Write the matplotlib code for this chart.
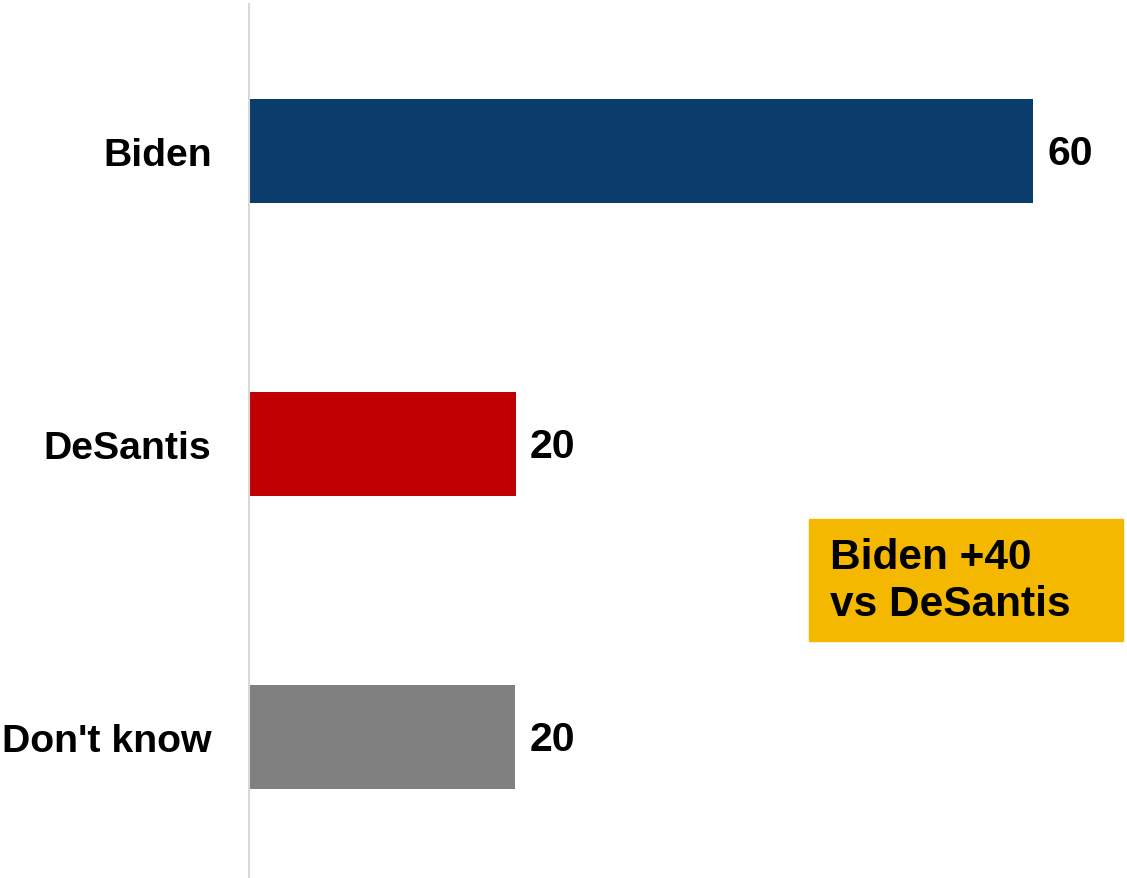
import matplotlib
matplotlib.use("Agg")
import matplotlib.pyplot as plt
from matplotlib.patches import Rectangle

categories = ["Biden", "DeSantis", "Don't know"]
values = [60, 20.4, 20.35]
colors = ["#0A3D6B", "#C00000", "#808080"]
callout = "Biden +40\nvs DeSantis"

plt.rcParams['font.family'] = ['Liberation Sans', 'DejaVu Sans']

W, H = 1127, 879
fig = plt.figure(figsize=(W/100, H/100), dpi=100)
ax = fig.add_axes([249/W, 0, 1 - 249/W, (H-5)/H])

ypos = list(range(len(categories)))
ax.barh(ypos, values, height=0.355, color=colors)
ax.set_xlim(0, (W-249)/13.07)
ax.set_ylim(2.48, -0.502)

for y, v in zip(ypos, values):
    ax.text(v + 1.1, y + 0.005, f"{round(v)}", va="center", ha="left", fontsize=29.5,
            fontweight="bold", color="black")

ax.set_yticks(ypos)
ax.set_yticklabels(categories, fontsize=28.3, fontweight="bold")
ax.tick_params(axis="y", length=0, pad=27)
ax.set_xticks([])
for s in ["top", "right", "bottom"]:
    ax.spines[s].set_visible(False)
ax.spines["left"].set_color("#D9D9D9")
ax.spines["left"].set_linewidth(1.5)

# callout box
bx0, bx1 = (809-249)/13.07, (1123-249)/13.07
by0, by1 = (520-152)/293, (642-152)/293
ax.add_patch(Rectangle((bx0, by0), bx1-bx0, by1-by0, color="#F5B800", zorder=3, clip_on=False))
ax.text(bx0 + 1.6, (by0+by1)/2, callout, ha="left", va="center", fontsize=30.5,
        fontweight="bold", color="black", zorder=4, linespacing=1.22)

fig.savefig("out.png", dpi=100)
